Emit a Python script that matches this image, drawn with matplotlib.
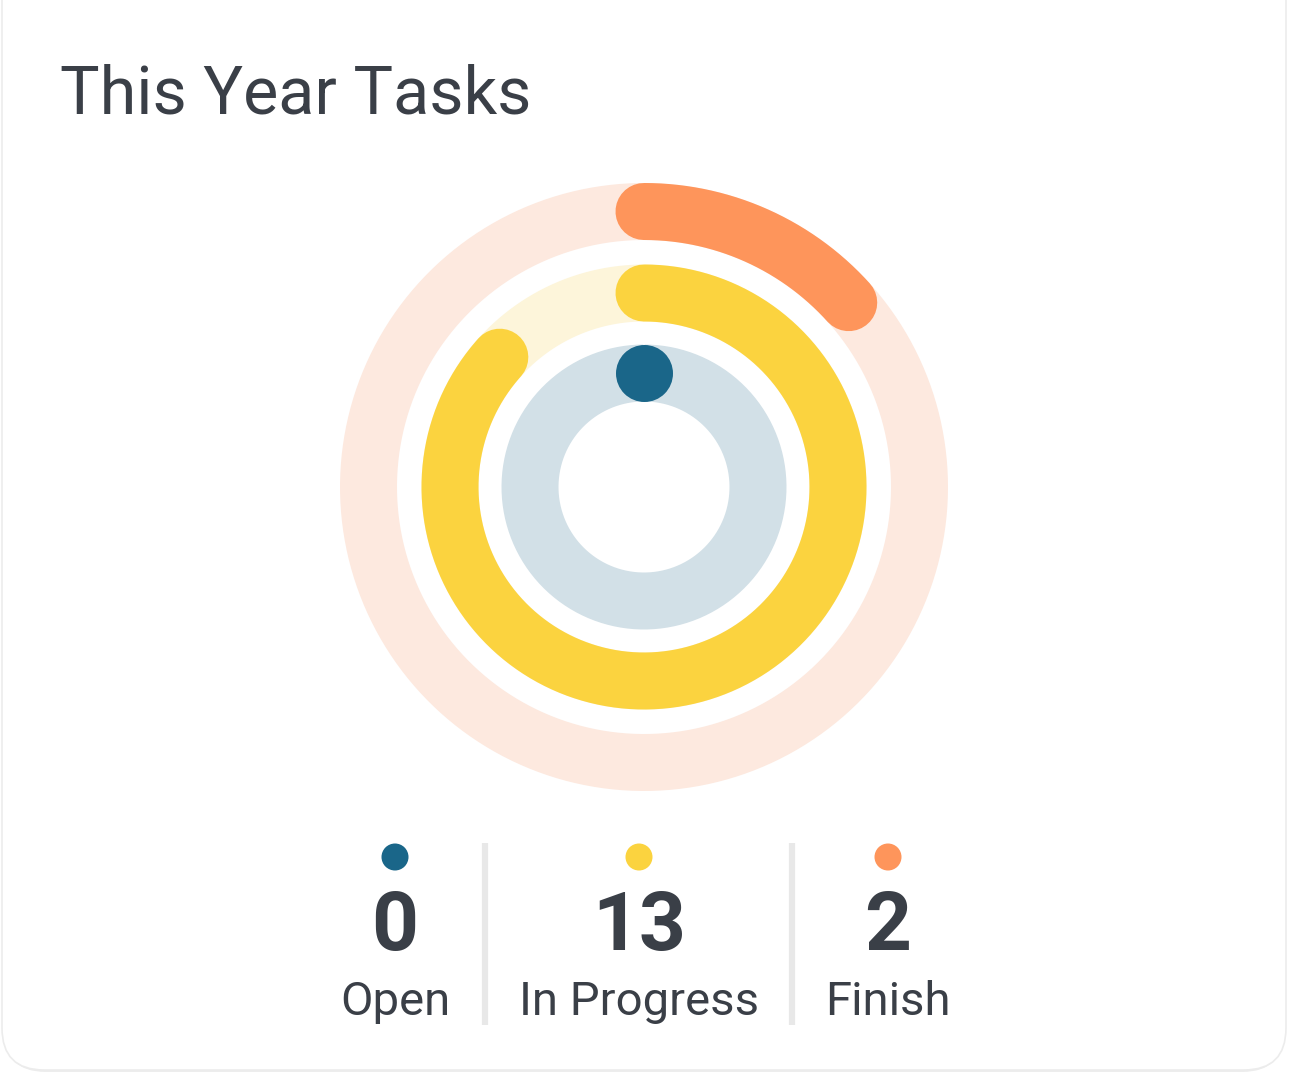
import numpy as np
import matplotlib
matplotlib.use("Agg")
import matplotlib.pyplot as plt
from matplotlib.patches import FancyBboxPatch, Circle

# ---- data ----
categories = ["Open", "In Progress", "Finish"]
values = [0, 13, 2]
colors = ["#1A6689", "#FBD33F", "#FE955B"]
track_colors = ["#D2E0E7", "#FDF5DA", "#FDE9DF"]
title = "This Year Tasks"

W, H = 1290, 1082
DPI = 100
fig = plt.figure(figsize=(W / DPI, H / DPI), dpi=DPI)
fig.patch.set_facecolor("white")

FONT = ["Roboto", "DejaVu Sans"]
TXT = "#3A3F47"

# background / card in pixel coordinates
bg = fig.add_axes([0, 0, 1, 1])
bg.set_xlim(0, W)
bg.set_ylim(H, 0)
bg.axis("off")
bg.add_patch(FancyBboxPatch((4, -60), W - 10, 60 + 1072, boxstyle="round,pad=0,rounding_size=42",
                            facecolor="#EDEDED", edgecolor="none", zorder=0))
bg.add_patch(FancyBboxPatch((2, -60), W - 6, 60 + 1074 - 4, boxstyle="round,pad=0,rounding_size=42",
                            facecolor="white", edgecolor="#ECECEC", linewidth=1.2, zorder=1))

bg.text(60, 114, title, fontsize=47.8, color=TXT, family=FONT, ha="left", va="baseline", zorder=3)

# ---- radial bars ----
cx, cy, R = 644, 487, 305
ax = fig.add_axes([(cx - R) / W, (H - cy - R) / H, 2 * R / W, 2 * R / H], projection="polar")
ax.set_theta_zero_location("N")
ax.set_theta_direction(-1)
ax.set_ylim(0, R)
ax.axis("off")
ax.patch.set_alpha(0)

radii = [114, 194, 275.5]   # inner -> outer ring centers (px)
ring_w = 57 * 72 / DPI       # ring width in points
total = sum(values)
full = np.linspace(0, 2 * np.pi, 400)
for v, c, tc, r in zip(values, colors, track_colors, radii):
    ax.plot(full, np.full_like(full, r), color=tc, lw=ring_w, solid_capstyle="butt", zorder=2)
    frac = v / total
    if frac > 0:
        th = np.linspace(0, 2 * np.pi * frac, 300)
        ax.plot(th, np.full_like(th, r), color=c, lw=ring_w, solid_capstyle="round", zorder=3)
    else:
        ax.plot([0], [r], marker="o", ms=ring_w, color=c, mec="none", zorder=3)

# ---- legend ----
xs = [395, 639, 888]
for x, cat, v, c in zip(xs, categories, values, colors):
    bg.add_patch(Circle((x, 857), 13.5, facecolor=c, edgecolor="none", zorder=3))
    bg.text(x, 950, str(v), fontsize=59, fontweight="bold", color=TXT, family=FONT,
            ha="center", va="baseline", zorder=3)
    bg.text(x, 1015, cat, fontsize=34, color=TXT, family=FONT, ha="center", va="baseline", zorder=3)
for sx in [485, 792]:
    bg.plot([sx, sx], [843, 1025], color="#E8E8E8", lw=4.5, solid_capstyle="butt", zorder=2)

fig.savefig("out.png", dpi=DPI)
